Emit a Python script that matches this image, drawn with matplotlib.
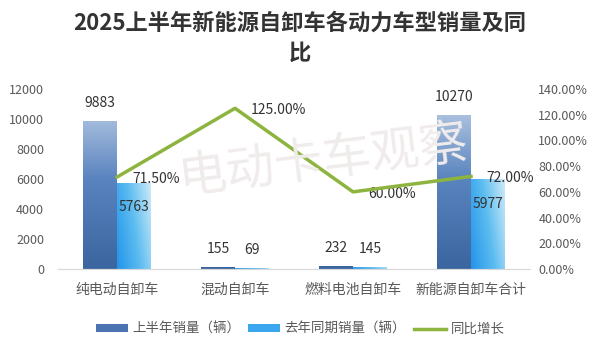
import numpy as np
import matplotlib.pyplot as plt
from matplotlib.patches import Patch
from matplotlib.lines import Line2D
from matplotlib.colors import LinearSegmentedColormap

plt.rcParams['font.family'] = ['Noto Sans CJK SC', 'DejaVu Sans']

categories = ['纯电动自卸车', '混动自卸车', '燃料电池自卸车', '新能源自卸车合计']
sales_h1 = [9883, 155, 232, 10270]
sales_last = [5763, 69, 145, 5977]
yoy = [71.50, 125.00, 60.00, 72.00]

series_names = ['上半年销量（辆）', '去年同期销量（辆）', '同比增长']
title = '2025上半年新能源自卸车各动力车型销量及同\n比'

text_gray = '#595959'
green = '#8db43e'
dark_cmap = LinearSegmentedColormap.from_list('dk', ['#3b659f', '#5a84bf', '#cbd9ec'])
light_cmap = LinearSegmentedColormap.from_list('lt', ['#2494ea', '#5bbcf0', '#cdeaf8'])

fig = plt.figure(figsize=(6.0, 3.43), dpi=100)
ax = fig.add_axes([58 / 600, 1 - 269 / 343, 472 / 600, 180 / 343])
ax2 = ax.twinx()

x = np.arange(len(categories))
w = 0.285
bars1 = ax.bar(x - w / 2, sales_h1, w, color='none', edgecolor='none')
bars2 = ax.bar(x + w / 2, sales_last, w, color='none', edgecolor='none')

# fill bars with gradients, clipped to each rectangle
vgrad = np.linspace(0, 1, 256).reshape(-1, 1)
diag = np.add.outer(np.linspace(0, 0.4, 64), np.linspace(0, 1, 64))
diag = diag / diag.max()
for b in bars1:
    x0 = b.get_x()
    im = ax.imshow(vgrad, cmap=dark_cmap, origin='lower', aspect='auto',
                   extent=[x0, x0 + b.get_width(), 0, 12000], zorder=2)
    im.set_clip_path(b)
for b in bars2:
    x0 = b.get_x()
    im = ax.imshow(diag, cmap=light_cmap, origin='lower', aspect='auto',
                   extent=[x0, x0 + b.get_width(), 0, b.get_height()], zorder=2)
    im.set_clip_path(b)
ax.set_xlim(-0.5, len(categories) - 0.5)
ax.set_ylim(0, 12000)
ax2.set_ylim(0, 140)

# value labels
for xi, v in zip(x, sales_h1):
    ax.text(xi - w / 2, v + 700, str(v), ha='center', va='bottom',
            fontsize=10, color='#333333', zorder=5)
for xi, v in zip(x, sales_last):
    if v > 1000:
        ax.text(xi + w / 2, v - 1650, str(v), ha='center', va='center',
                fontsize=10, color='#333333', zorder=5)
    else:
        ax.text(xi + w / 2, v + 700, str(v), ha='center', va='bottom',
                fontsize=10, color='#333333', zorder=5)

ax2.plot(x, yoy, color=green, linewidth=2.5, zorder=4)
for xi, v in zip(x, yoy):
    ax2.text(xi + 0.13, v - 1.5, f'{v:.2f}%', ha='left', va='center',
             fontsize=10, color='#333333')

ax.set_xticks(x)
ax.set_xticklabels(categories, fontsize=10, color=text_gray)
ax.set_yticks(np.arange(0, 12001, 2000))
ax.tick_params(axis='y', labelsize=9, colors=text_gray, length=0, pad=10)
ax.tick_params(axis='x', length=0, pad=10)
ax2.set_yticks(np.arange(0, 141, 20))
ax2.set_yticklabels([f'{t:.2f}%' for t in np.arange(0, 141, 20)])
ax2.tick_params(axis='y', labelsize=9, colors=text_gray, length=0, pad=6)

for a in (ax, ax2):
    for s in ['top', 'left', 'right']:
        a.spines[s].set_visible(False)
    a.spines['bottom'].set_color('#d9d9d9')

fig.text(0.5, 1 - 12 / 343, title, ha='center', va='top', fontsize=16,
         fontweight='bold', color='#333333', linespacing=1.4)

fig.text(323 / 600, 1 - 160 / 343, '电动卡车观察', ha='center', va='center',
         fontsize=35, color='#f1ecec', rotation=7, zorder=0)

handles = [Patch(facecolor='#4a74b0'), Patch(facecolor='#3aa6ee'),
           Line2D([0], [0], color=green, linewidth=2.5)]
fig.legend(handles, series_names, loc='center', bbox_to_anchor=(0.5, 1 - 329 / 343),
           ncol=3, frameon=False, fontsize=9.7, handlelength=2.4, handleheight=0.5,
           columnspacing=0.6, handletextpad=0.3, labelcolor=text_gray)

fig.savefig('out.png', dpi=100, facecolor='white')
